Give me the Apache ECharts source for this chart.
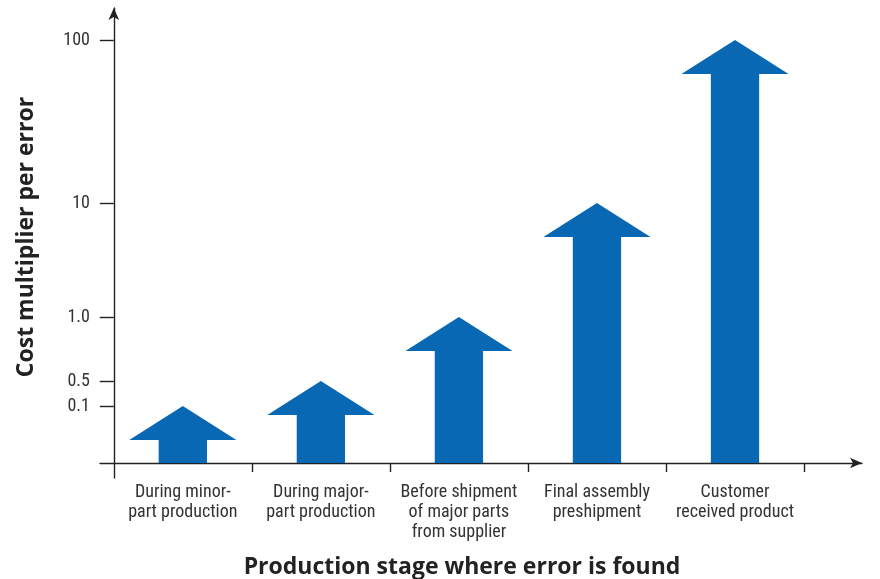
<!DOCTYPE html>
<html>
<head>
<meta charset="utf-8">
<script src="https://cdn.jsdelivr.net/npm/echarts@6/dist/echarts.min.js"></script>
<style>
  html, body { margin: 0; padding: 0; background: #fff; }
  #chart { width: 880px; height: 579px; }
</style>
</head>
<body>
<div id="chart"></div>
<script>
// stages along the x axis
const stages = [
  'During minor-\npart production',
  'During major-\npart production',
  'Before shipment\nof major parts\nfrom supplier',
  'Final assembly\npreshipment',
  'Customer\nreceived product'
];
// cost multiplier reached at each stage (arrow tip)
const costMultiplier = [0.1, 0.5, 1.0, 10, 100];

// y axis is schematic (not linear, not log): tick values and where they sit
const tickValues = [0, 0.1, 0.5, 1.0, 10, 100];
const tickLabels = ['', '0.1', '0.5', '1.0', '10', '100'];
const tickLevels = [0, 57, 82, 146, 260, 423];

// map a cost value onto the schematic axis
const toLevel = (v) => {
  for (let i = 1; i < tickValues.length; i++) {
    if (v <= tickValues[i]) {
      const t = (v - tickValues[i - 1]) / (tickValues[i] - tickValues[i - 1]);
      return tickLevels[i - 1] + t * (tickLevels[i] - tickLevels[i - 1]);
    }
  }
  return tickLevels[tickLevels.length - 1];
};

const labelFont = '"Liberation Sans Narrow", "Roboto Condensed", "Arial Narrow", "Liberation Sans", sans-serif';
const axisColor = '#222';

const chart = echarts.init(document.getElementById('chart'));

chart.setOption({
  animation: false,
  grid: { left: 100, right: 18, top: 8, bottom: 101, outerBoundsMode: 'none' },
  xAxis: {
    type: 'value',
    min: -0.1,
    max: 5.42,
    splitLine: { show: false },
    axisLine: {
      show: true,
      lineStyle: { color: axisColor, width: 1.4 },
      symbol: ['none', 'arrow'],
      symbolSize: [8, 12]
    },
    axisTick: {
      show: true,
      customValues: [1, 2, 3, 4, 5],
      length: 9,
      lineStyle: { color: axisColor, width: 1.4 }
    },
    axisLabel: {
      customValues: stages.map((s, i) => i + 0.5),
      formatter: (v) => stages[Math.round(v - 0.5)],
      margin: 4,
      fontFamily: labelFont,
      fontSize: 18,
      lineHeight: 20,
      color: '#333',
      verticalAlign: 'top'
    }
  },
  yAxis: {
    type: 'value',
    min: -15,
    max: 455,
    splitLine: { show: false },
    axisLine: {
      show: true,
      lineStyle: { color: axisColor, width: 1.4 },
      symbol: ['none', 'arrow'],
      symbolSize: [8, 12]
    },
    axisTick: {
      show: true,
      customValues: tickLevels.slice(1),
      length: 14,
      lineStyle: { color: axisColor, width: 1.4 }
    },
    axisLabel: {
      customValues: tickLevels.slice(1),
      formatter: (v) => tickLabels[tickLevels.indexOf(v)],
      margin: 10,
      fontFamily: labelFont,
      fontSize: 18,
      color: '#333'
    }
  },
  graphic: [
    {
      type: 'text',
      x: 462,
      y: 567,
      style: {
        text: 'Production stage where error is found',
        font: 'bold 23px "Open Sans", "Noto Sans", sans-serif',
        fill: '#222',
        align: 'center',
        verticalAlign: 'middle'
      }
    },
    {
      type: 'text',
      x: 26,
      y: 237,
      rotation: Math.PI / 2,
      style: {
        text: 'Cost multiplier per error',
        font: 'bold 23px "Open Sans", "Noto Sans", sans-serif',
        fill: '#222',
        align: 'center',
        verticalAlign: 'middle'
      }
    }
  ],
  series: [
    {
      type: 'custom',
      data: costMultiplier.map((c, i) => [i + 0.5, toLevel(c)]),
      renderItem: (params, api) => {
        const base = api.coord([api.value(0), 0]);
        const tip = api.coord([api.value(0), api.value(1)]);
        const band = api.size([1, 0])[0];
        const headHalf = band * 0.388;
        const shaftHalf = band * 0.175;
        const headH = 34;
        const cx = base[0];
        const neck = tip[1] + headH;
        return {
          type: 'polygon',
          shape: {
            points: [
              [cx - shaftHalf, base[1]],
              [cx - shaftHalf, neck],
              [cx - headHalf, neck],
              [cx, tip[1]],
              [cx + headHalf, neck],
              [cx + shaftHalf, neck],
              [cx + shaftHalf, base[1]]
            ]
          },
          style: { fill: '#0868b3' }
        };
      }
    }
  ]
});
</script>
</body>
</html>
